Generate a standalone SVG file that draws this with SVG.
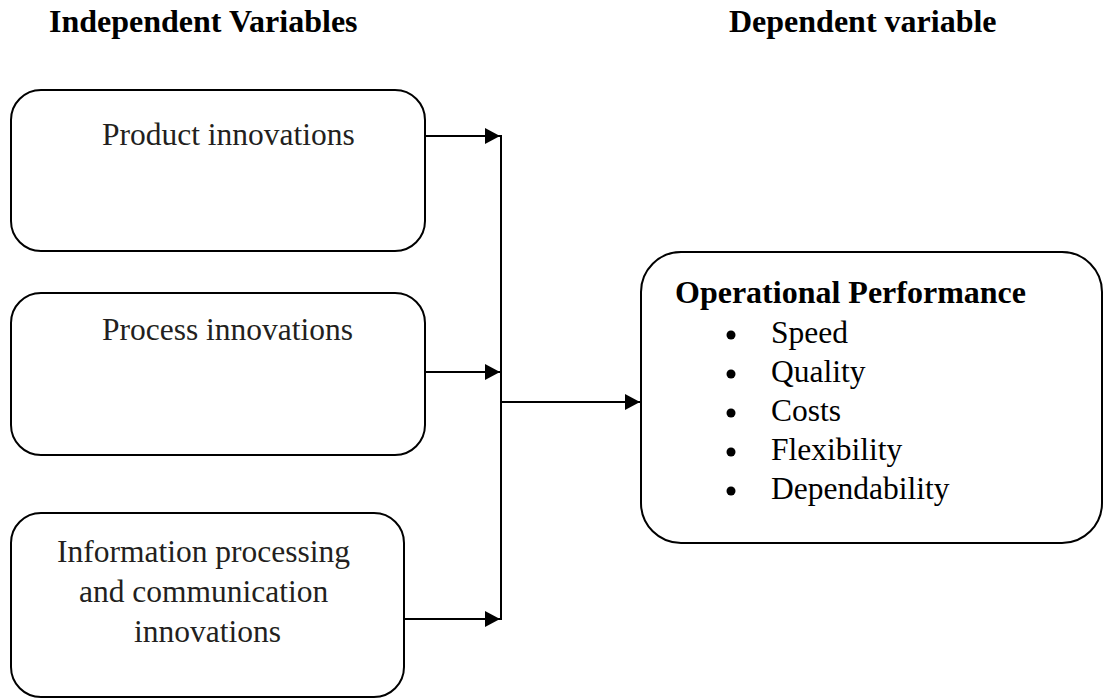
<svg xmlns="http://www.w3.org/2000/svg" width="1104" height="698" viewBox="0 0 1104 698">
  <style>
    .box { fill: #ffffff; stroke: #000000; stroke-width: 2; }
    .head { font-family: "Liberation Serif", "Times New Roman", serif; font-weight: bold; font-size: 32px; fill: #000000; }
    .label { font-family: "Liberation Serif", "Times New Roman", serif; font-size: 31.5px; fill: #231f20; }
    .title { font-family: "Liberation Serif", "Times New Roman", serif; font-weight: bold; font-size: 32px; fill: #000000; }
    .item { font-family: "Liberation Serif", "Times New Roman", serif; font-size: 31.5px; fill: #000000; }
    .wire { fill: none; stroke: #000000; stroke-width: 2; }
  </style>
  <defs>
    <marker id="arrow" markerUnits="userSpaceOnUse" markerWidth="16" markerHeight="16" refX="15" refY="8" orient="auto">
      <path d="M0,0 L15,8 L0,16 Z" fill="#000000"/>
    </marker>
  </defs>
  <rect width="1104" height="698" fill="#ffffff"/>

  <!-- column headings -->
  <text class="head" x="49" y="32">Independent Variables</text>
  <text class="head" x="729" y="32">Dependent variable</text>

  <!-- connectors -->
  <g id="connectors">
    <line class="wire" x1="425" y1="136" x2="500" y2="136" marker-end="url(#arrow)"/>
    <line class="wire" x1="425" y1="372" x2="500" y2="372" marker-end="url(#arrow)"/>
    <line class="wire" x1="404" y1="619" x2="500" y2="619" marker-end="url(#arrow)"/>
    <line class="wire" x1="501" y1="135" x2="501" y2="620"/>
    <line class="wire" x1="501" y1="402" x2="640" y2="402" marker-end="url(#arrow)"/>
  </g>

  <g id="product">
    <rect class="box" x="11" y="90" width="414" height="161" rx="30" ry="30"/>
    <text class="label" x="102" y="145">Product innovations</text>
  </g>

  <g id="process">
    <rect class="box" x="11" y="293" width="414" height="162" rx="30" ry="30"/>
    <text class="label" x="102" y="340">Process innovations</text>
  </g>

  <g id="information">
    <rect class="box" x="11" y="513" width="393" height="184" rx="30" ry="30"/>
    <text class="label" text-anchor="middle">
      <tspan x="207.5" y="562">Information processing</tspan>
      <tspan x="207.5" y="602">and communication</tspan>
      <tspan x="207.5" y="642">innovations</tspan>
    </text>
  </g>

  <g id="performance">
    <rect class="box" x="641" y="252" width="461" height="291" rx="40" ry="40"/>
    <text class="title" x="675" y="303">Operational Performance</text>
    <g fill="#000000">
      <circle cx="731" cy="335" r="4.5"/>
      <circle cx="731" cy="374" r="4.5"/>
      <circle cx="731" cy="413" r="4.5"/>
      <circle cx="731" cy="452" r="4.5"/>
      <circle cx="731" cy="491" r="4.5"/>
    </g>
    <text class="item" x="771" y="343">Speed</text>
    <text class="item" x="771" y="382">Quality</text>
    <text class="item" x="771" y="421">Costs</text>
    <text class="item" x="771" y="460">Flexibility</text>
    <text class="item" x="771" y="499">Dependability</text>
  </g>
</svg>
